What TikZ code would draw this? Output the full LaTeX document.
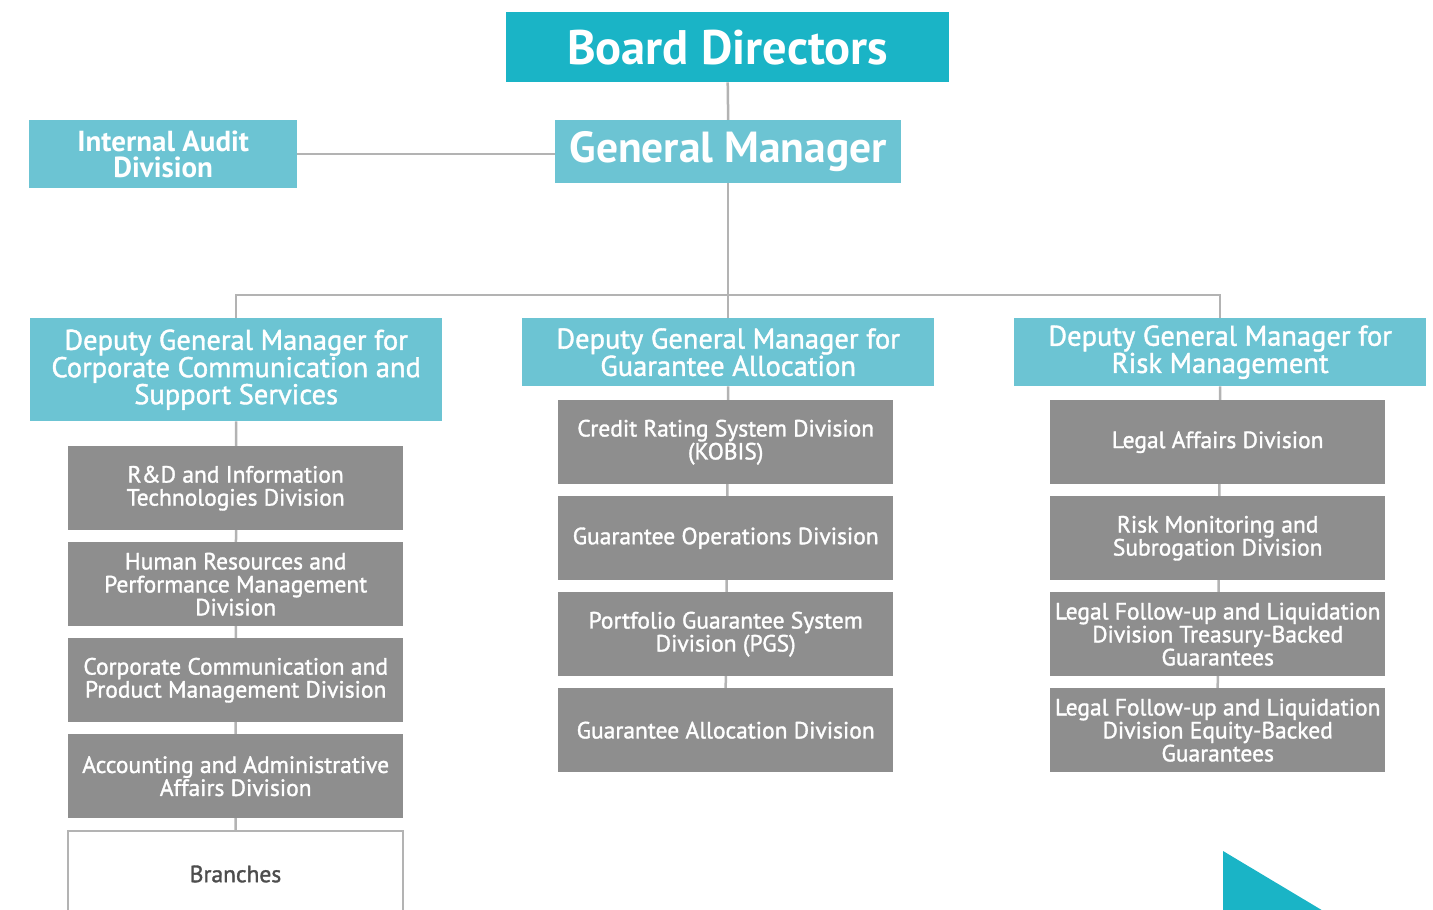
\documentclass[tikz,border=0pt]{standalone}
\usepackage{fontspec}
\setmainfont{PT Sans}
\newfontfamily\semifont{PT Sans}[FakeBold=1.4]
\usetikzlibrary{backgrounds}
\definecolor{teal}{HTML}{1AB4C6}
\definecolor{lteal}{HTML}{6CC4D3}
\definecolor{divgray}{HTML}{8E8E8E}
\definecolor{linegray}{HTML}{B3B3B3}
\definecolor{textdark}{HTML}{4D4D4D}
\tikzset{
  box/.style={anchor=north west, inner sep=0pt, align=center, text=white},
  topbox/.style={box, fill=teal, font=\bfseries\fontsize{48.5}{52}\selectfont},
  gmbox/.style={box, fill=lteal, font=\bfseries\fontsize{43.5}{46}\selectfont},
  auditbox/.style={box, fill=lteal, font=\bfseries\fontsize{29}{26}\selectfont},
  deputy/.style={box, fill=lteal, minimum width=412pt, font=\semifont\fontsize{28.5}{25.5}\selectfont},
  division/.style={box, fill=divgray, minimum width=335pt, minimum height=84pt, font=\semifont\fontsize{23.5}{23}\selectfont},
  branchbox/.style={box, fill=white, draw=linegray, line width=2pt, minimum width=335pt, minimum height=110pt},
  link/.style={draw=linegray, line width=2.5pt}
}
\begin{document}
\begin{tikzpicture}[x=1pt,y=-1pt]
\useasboundingbox (0,0) rectangle (1433,910);
\clip (0,0) rectangle (1433,910);

% top levels
\node[topbox, minimum width=443pt, minimum height=70pt] (bd) at (506,12) {Board Directors};
\node[gmbox, minimum width=346pt, minimum height=63pt] (gm) at (555,120) {General Manager};
\node[auditbox, minimum width=268pt, minimum height=68pt] (ia) at (29,120) {Internal Audit\\Division};

% deputy general managers
\node[deputy, minimum height=103pt] (dl) at (30,318) {Deputy General Manager for\\Corporate Communication and\\Support Services};
\node[deputy, minimum height=68pt] (dm) at (522,318) {Deputy General Manager for\\Guarantee Allocation};
\node[deputy, minimum height=68pt] (dr) at (1014,318) {Deputy General Manager for\\Risk Management};

% left column
\node[division] (l1) at (68,446) {R\&D and Information\\Technologies Division};
\node[division] (l2) at (68,542) {Human Resources and\\Performance Management\\Division};
\node[division] (l3) at (68,638) {Corporate Communication and\\Product Management Division};
\node[division] (l4) at (68,734) {Accounting and Administrative\\Affairs Division};
\node[branchbox, anchor=north] (br) at (235.5,830) {};
\node[text=textdark, font=\semifont\fontsize{23.5}{23}\selectfont] (brt) at (235.5,874) {Branches};

% middle column
\node[division] (m1) at (558,400) {Credit Rating System Division\\(KOBIS)};
\node[division] (m2) at (558,496) {Guarantee Operations Division};
\node[division] (m3) at (558,592) {Portfolio Guarantee System\\Division (PGS)};
\node[division] (m4) at (558,688) {Guarantee Allocation Division};

% right column
\node[division] (r1) at (1050,400) {Legal Affairs Division};
\node[division] (r2) at (1050,496) {Risk Monitoring and\\Subrogation Division};
\node[division] (r3) at (1050,592) {Legal Follow-up and Liquidation\\Division Treasury-Backed\\Guarantees};
\node[division] (r4) at (1050,688) {Legal Follow-up and Liquidation\\Division Equity-Backed\\Guarantees};

% connectors
\begin{scope}[on background layer]
\draw[link] (bd.south) -- (gm.north);
\draw[link] (ia.east) -- (ia.east -| gm.west);
\draw[link] (gm.south) -- (dm.north);
\draw[link] (dl.north) -- ++(0,-23) -| (dr.north);
\draw[link] (dl.south) -- (br.north);
\draw[link] (dm.south) -- (m4.north);
\draw[link] (dr.south) -- (r4.north);
\end{scope}

% corner accent
\fill[teal] (1223,851) -- (1330,915) -- (1223,915) -- cycle;
\end{tikzpicture}
\end{document}
